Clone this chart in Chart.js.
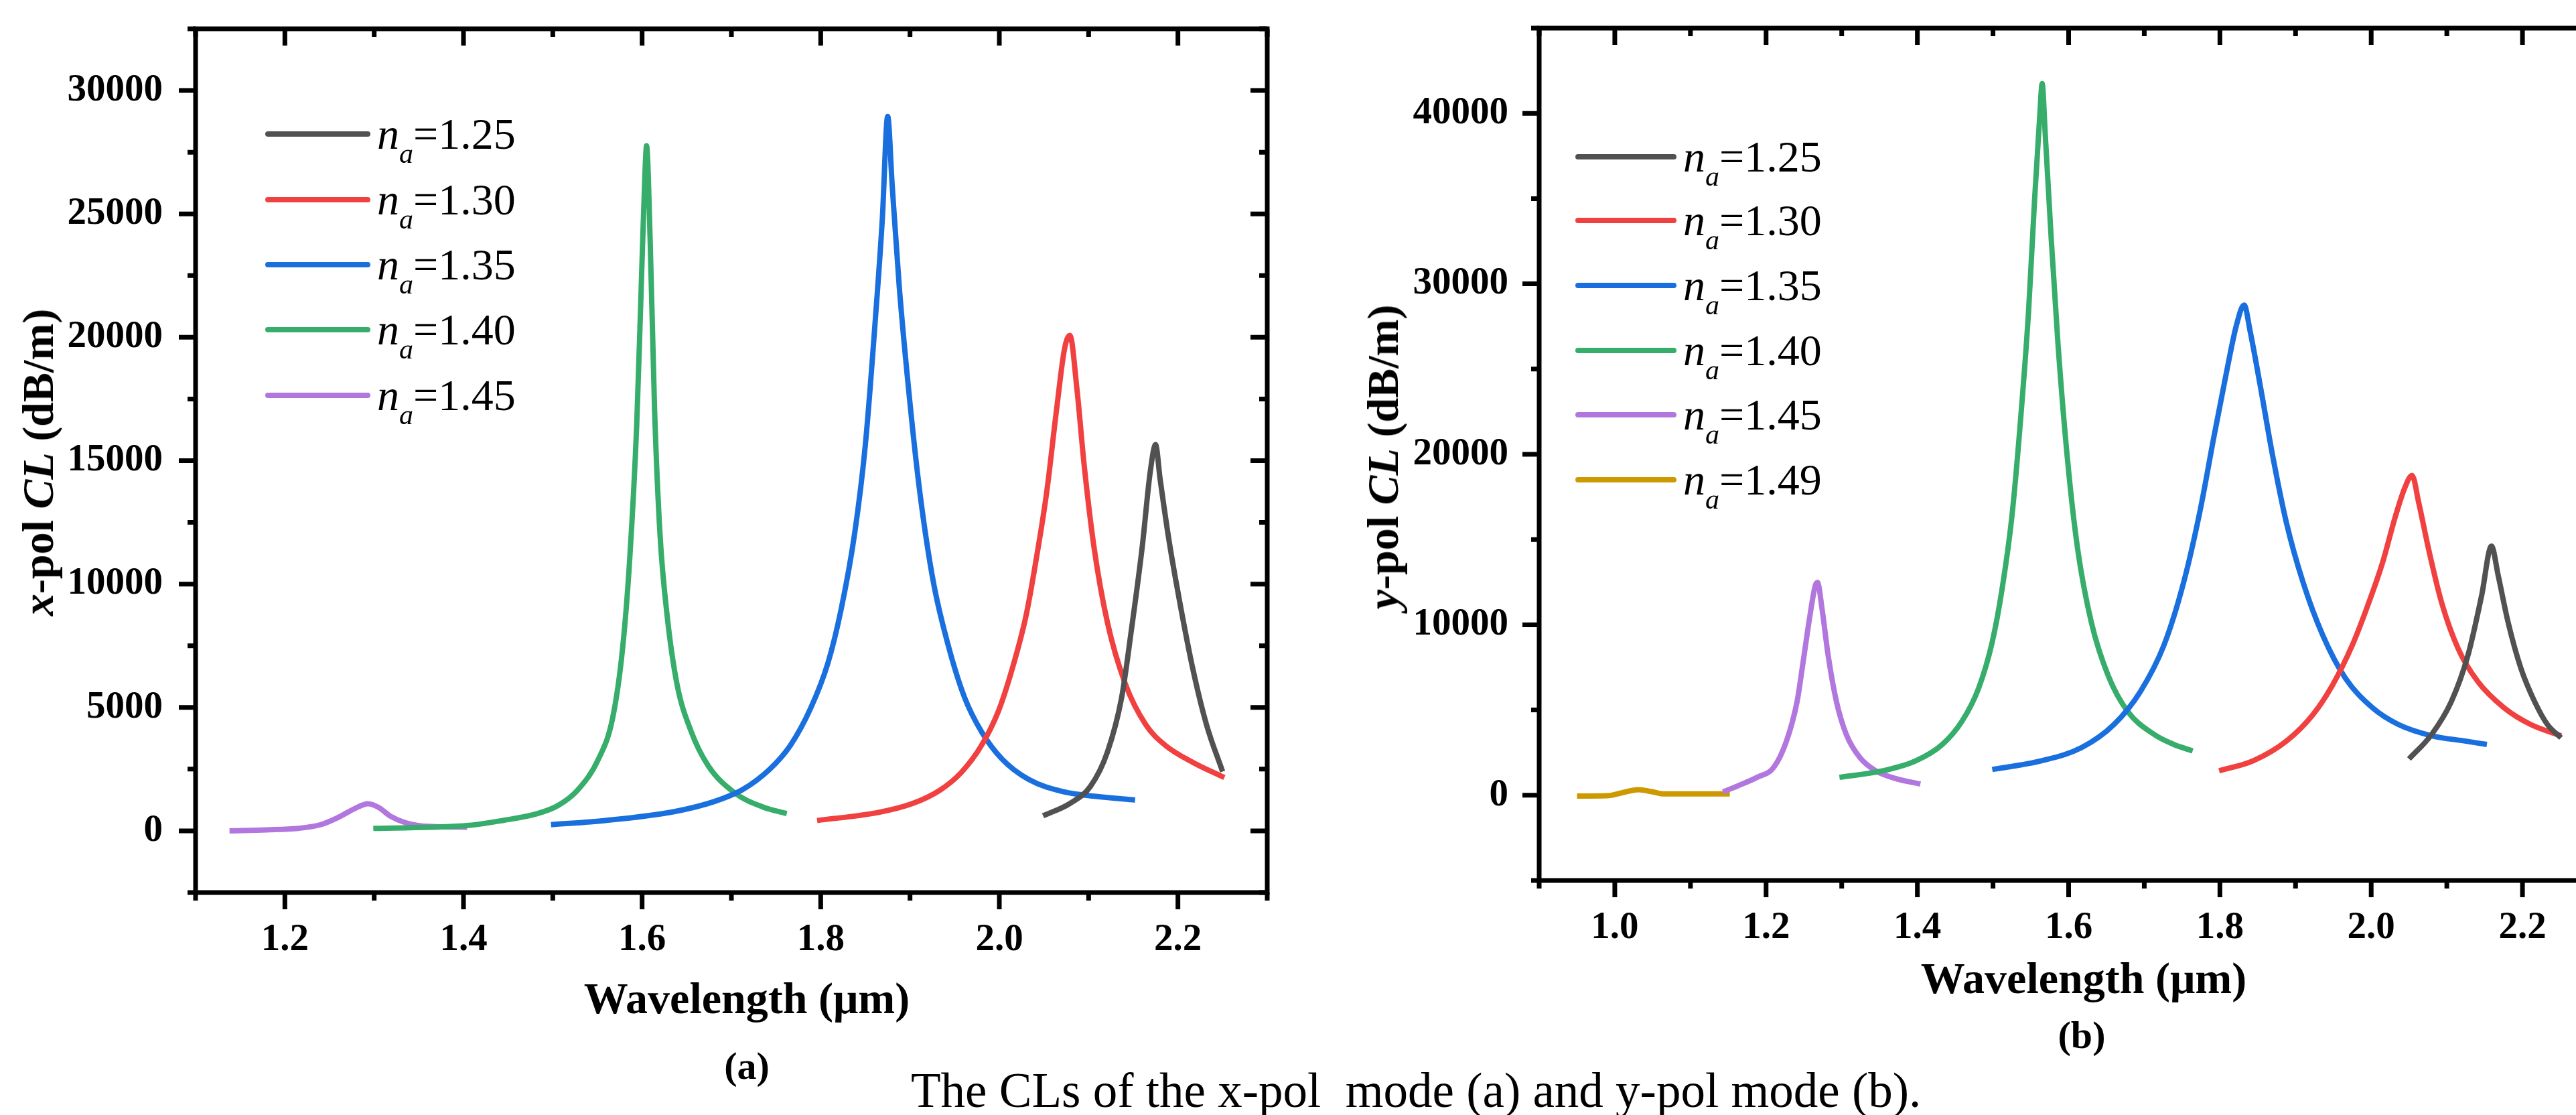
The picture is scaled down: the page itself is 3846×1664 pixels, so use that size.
<!DOCTYPE html>
<html>
<head>
<meta charset="utf-8">
<script src="https://cdn.jsdelivr.net/npm/chart.js@4.4.0/dist/chart.umd.min.js"></script>
<style>
  html, body { margin: 0; padding: 0; background: #fff; }
  body { width: 3846px; height: 1664px; overflow: hidden; position: relative;
         font-family: "Liberation Serif", "Times New Roman", serif; color: #000; }
  .panel { position: absolute; }
  .txt { position: absolute; white-space: nowrap; line-height: 1; }
  .b { font-weight: bold; }
  .ytitle { position: absolute; white-space: nowrap; line-height: 1; font-weight: bold;
            font-size: 66px; transform: translate(-50%, -50%) rotate(-90deg); }
  .leg { position: absolute; height: 80px; display: flex; align-items: center;
         font-family: "Liberation Serif", "Times New Roman", serif;
         font-size: 66px; white-space: nowrap; }
  .leg .sw { height: 8px; border-radius: 4px; margin-right: 10px; }
  .leg sub { font-size: 42px; vertical-align: -21px; line-height: 0; }
</style>
</head>
<body>
<div class="panel" style="left:0;top:0;width:1950px;height:1460px;"><canvas id="chartA"></canvas></div>
<div class="panel" style="left:1950px;top:0;width:2000px;height:1440px;"><canvas id="chartB"></canvas></div>

<div class="ytitle" style="left:57px;top:690px;"><i>x</i>-pol <i>CL</i> (dB/m)</div>
<div class="txt b" style="left:1115px;top:1457px;font-size:66px;transform:translateX(-50%);">Wavelength (μm)</div>
<div class="txt b" style="left:1115px;top:1562px;font-size:58px;transform:translateX(-50%);">(a)</div>

<div class="ytitle" style="left:2065px;top:682px;"><i>y</i>-pol <i>CL</i> (dB/m)</div>
<div class="txt b" style="left:3111px;top:1427px;font-size:66px;transform:translateX(-50%);">Wavelength (μm)</div>
<div class="txt b" style="left:3108px;top:1516px;font-size:58px;transform:translateX(-50%);">(b)</div>

<div class="txt" style="left:1360px;top:1591px;font-size:73px;">The CLs of the x-pol&nbsp; mode (a) and y-pol mode (b).</div>

<script>
// refractive index labels and colours
const naLabels = ["1.25", "1.30", "1.35", "1.40", "1.45", "1.49"];
const naColors = ["#515151", "#F14040", "#1A6FDF", "#37AD6B", "#B177DE", "#CC9900"];

// (a) x-pol confinement loss, wavelength in um, CL in dB/m
const a125x = [2.049, 2.079, 2.102, 2.121, 2.137, 2.148, 2.160, 2.169, 2.175, 2.180, 2.190, 2.202, 2.217, 2.232, 2.250];
const a125y = [610, 1110, 1800, 3190, 5410, 8170, 11500, 14550, 15650, 14270, 11770, 9280, 6510, 4300, 2400];
const a130x = [1.796, 1.865, 1.903, 1.934, 1.957, 1.980, 1.999, 2.014, 2.030, 2.041, 2.053, 2.064, 2.073, 2.079, 2.087, 2.095, 2.106, 2.121, 2.141, 2.164, 2.186, 2.217, 2.252];
const a130y = [420, 750, 1110, 1660, 2350, 3460, 4850, 6510, 8730, 10940, 13710, 17040, 19530, 20080, 17870, 14820, 11500, 8450, 5960, 4300, 3460, 2770, 2160];
const a135x = [1.498, 1.559, 1.636, 1.681, 1.712, 1.743, 1.766, 1.789, 1.808, 1.823, 1.838, 1.850, 1.861, 1.869, 1.875, 1.880, 1.888, 1.900, 1.911, 1.926, 1.942, 1.961, 1.980, 2.003, 2.033, 2.072, 2.110, 2.152];
const a135y = [250, 420, 780, 1190, 1660, 2500, 3460, 4990, 6790, 9000, 12050, 15650, 20640, 24800, 28950, 26180, 22030, 17320, 13720, 10110, 7620, 5410, 4020, 2910, 2080, 1580, 1390, 1250];
const a140x = [1.299, 1.406, 1.444, 1.483, 1.506, 1.528, 1.551, 1.567, 1.578, 1.586, 1.594, 1.599, 1.603, 1.605, 1.609, 1.614, 1.620, 1.628, 1.639, 1.655, 1.674, 1.704, 1.735, 1.762];
const a140y = [100, 220, 420, 700, 1030, 1660, 2900, 4570, 7340, 10940, 16480, 22000, 26450, 27760, 23960, 17040, 12050, 8730, 5960, 4020, 2640, 1530, 970, 700];
const a145x = [1.138, 1.180, 1.215, 1.240, 1.260, 1.278, 1.293, 1.305, 1.318, 1.335, 1.360, 1.404];
const a145y = [0, 40, 100, 250, 550, 900, 1100, 950, 600, 330, 180, 150];

// (b) y-pol confinement loss
const b125x = [2.050, 2.080, 2.106, 2.128, 2.146, 2.159, 2.168, 2.181, 2.198, 2.216, 2.233, 2.251];
const b125y = [2130, 3570, 5500, 8220, 11710, 14610, 12870, 10150, 7440, 5500, 4150, 3370];
const b130x = [1.799, 1.844, 1.888, 1.923, 1.949, 1.975, 1.997, 2.015, 2.032, 2.045, 2.054, 2.063, 2.076, 2.093, 2.115, 2.141, 2.176, 2.211, 2.251];
const b130y = [1430, 2020, 3180, 4730, 6470, 8800, 11320, 13640, 16360, 18100, 18760, 17130, 14420, 11320, 8600, 6670, 5120, 4150, 3490];
const b135x = [1.499, 1.564, 1.617, 1.660, 1.695, 1.726, 1.752, 1.774, 1.792, 1.809, 1.822, 1.832, 1.840, 1.853, 1.870, 1.888, 1.910, 1.936, 1.966, 2.002, 2.036, 2.080, 2.124, 2.153];
const b135y = [1510, 2020, 2790, 4150, 6090, 8800, 12480, 16740, 21010, 24880, 27600, 28760, 27210, 24110, 19850, 15970, 12480, 9380, 6860, 5120, 4150, 3490, 3180, 2980];
const b140x = [1.297, 1.354, 1.398, 1.433, 1.459, 1.481, 1.499, 1.512, 1.525, 1.536, 1.547, 1.555, 1.562, 1.565, 1.569, 1.577, 1.586, 1.599, 1.612, 1.630, 1.652, 1.678, 1.713, 1.739, 1.764];
const b140y = [1050, 1430, 2020, 2980, 4340, 6280, 8990, 12090, 16360, 21780, 28370, 34960, 40000, 41750, 38840, 32630, 26430, 19460, 14420, 10150, 7050, 4920, 3570, 2980, 2600];
const b145x = [1.143, 1.162, 1.188, 1.210, 1.227, 1.241, 1.249, 1.258, 1.265, 1.268, 1.274, 1.282, 1.293, 1.306, 1.324, 1.345, 1.372, 1.404];
const b145y = [200, 540, 1050, 1630, 3180, 5500, 7830, 10540, 12290, 12480, 10930, 8220, 5500, 3570, 2210, 1430, 970, 660];
const b149x = [0.950, 0.990, 1.010, 1.031, 1.050, 1.065, 1.110, 1.152];
const b149y = [-50, -30, 150, 330, 200, 80, 80, 80];

// axis ranges
const aXRange = [1.1, 2.3], aYRange = [-2500, 32500];
const bXRange = [0.9, 2.3], bYRange = [-5000, 45000];

function pts(xs, ys) {
  return xs.map((x, i) => ({ x: x, y: ys[i] }));
}

function series(xs, ys, k) {
  return {
    label: "na=" + naLabels[k],
    data: pts(xs, ys),
    borderColor: naColors[k],
    backgroundColor: naColors[k],
    borderWidth: 8,
    pointRadius: 0,
    fill: false,
    cubicInterpolationMode: "monotone",
    borderJoinStyle: "round",
  };
}

// box frame plus major/minor ticks on all four sides
const frameTicks = {
  id: "frameTicks",
  afterDraw(chart) {
    const { ctx, chartArea: a, scales } = chart;
    const x = scales.x, y = scales.y;
    ctx.save();
    ctx.strokeStyle = "#000";
    ctx.lineWidth = 7;
    ctx.lineCap = "butt";
    ctx.beginPath();
    x.ticks.forEach((t) => {
      const px = x.getPixelForValue(t.value);
      const len = t.label !== "" ? 25 : 12;
      ctx.moveTo(px, a.bottom); ctx.lineTo(px, a.bottom + len);
      ctx.moveTo(px, a.top); ctx.lineTo(px, a.top + len);
    });
    y.ticks.forEach((t) => {
      const py = y.getPixelForValue(t.value);
      const len = t.label !== "" ? 25 : 12;
      ctx.moveTo(a.left, py); ctx.lineTo(a.left - len, py);
      ctx.moveTo(a.right, py); ctx.lineTo(a.right - len, py);
    });
    ctx.stroke();
    ctx.strokeRect(a.left, a.top, a.right - a.left, a.bottom - a.top);
    ctx.restore();
  },
};

function makeChart(id, datasets, xr, yr, yStep, yMajor, yAxisW, xAxisH, pad, yPad) {
  const tickFont = { family: "'Liberation Serif', 'Times New Roman', serif", size: 57, weight: "bold" };
  return new Chart(document.getElementById(id), {
    type: "line",
    data: { datasets: datasets },
    plugins: [frameTicks],
    options: {
      responsive: true,
      maintainAspectRatio: false,
      devicePixelRatio: 1,
      animation: false,
      layout: { padding: pad },
      plugins: { legend: { display: false }, tooltip: { enabled: false } },
      scales: {
        x: {
          type: "linear",
          min: xr[0],
          max: xr[1],
          grid: { display: false, drawTicks: false },
          border: { display: false },
          ticks: {
            stepSize: 0.1,
            autoSkip: false,
            maxRotation: 0,
            padding: 37,
            color: "#000",
            font: tickFont,
            callback: (v) => (Math.round(v * 10) % 2 === 0 ? v.toFixed(1) : ""),
          },
          afterFit: (s) => { s.height = xAxisH; s.paddingLeft = 0; s.paddingRight = 0; },
        },
        y: {
          type: "linear",
          min: yr[0],
          max: yr[1],
          grid: { display: false, drawTicks: false },
          border: { display: false },
          ticks: {
            stepSize: yStep,
            autoSkip: false,
            padding: yPad,
            color: "#000",
            font: tickFont,
            callback: (v) => (v % yMajor === 0 ? String(v) : ""),
          },
          afterFit: (s) => { s.width = yAxisW; s.paddingTop = 0; s.paddingBottom = 0; },
        },
      },
    },
  });
}

makeChart("chartA", [
  series(a125x, a125y, 0),
  series(a130x, a130y, 1),
  series(a135x, a135y, 2),
  series(a140x, a140y, 3),
  series(a145x, a145y, 4),
], aXRange, aYRange, 2500, 5000, 292, 128, { top: 43, right: 58, left: 0, bottom: 0 }, 49);

makeChart("chartB", [
  series(b125x, b125y, 0),
  series(b130x, b130y, 1),
  series(b135x, b135y, 2),
  series(b140x, b140y, 3),
  series(b145x, b145y, 4),
  series(b149x, b149y, 5),
], bXRange, bYRange, 5000, 10000, 348, 126, { top: 42, right: 71, left: 0, bottom: 0 }, 46);

// legends (HTML, so n can be italic with subscript a)
function legend(left, rowsY, swW, count) {
  for (let k = 0; k < count; k++) {
    const row = document.createElement("div");
    row.className = "leg";
    row.style.left = left + "px";
    row.style.top = (rowsY[k] - 40) + "px";
    row.innerHTML = '<div class="sw" style="width:' + swW + 'px;background:' + naColors[k] + ';"></div>' +
      '<span><i>n</i><sub><i>a</i></sub>=' + naLabels[k] + "</span>";
    document.body.appendChild(row);
  }
}
legend(396, [200, 298, 395, 492, 590], 157, 5);
legend(2352, [234, 329, 426, 523, 619, 716], 151, 6);
</script>
</body>
</html>
